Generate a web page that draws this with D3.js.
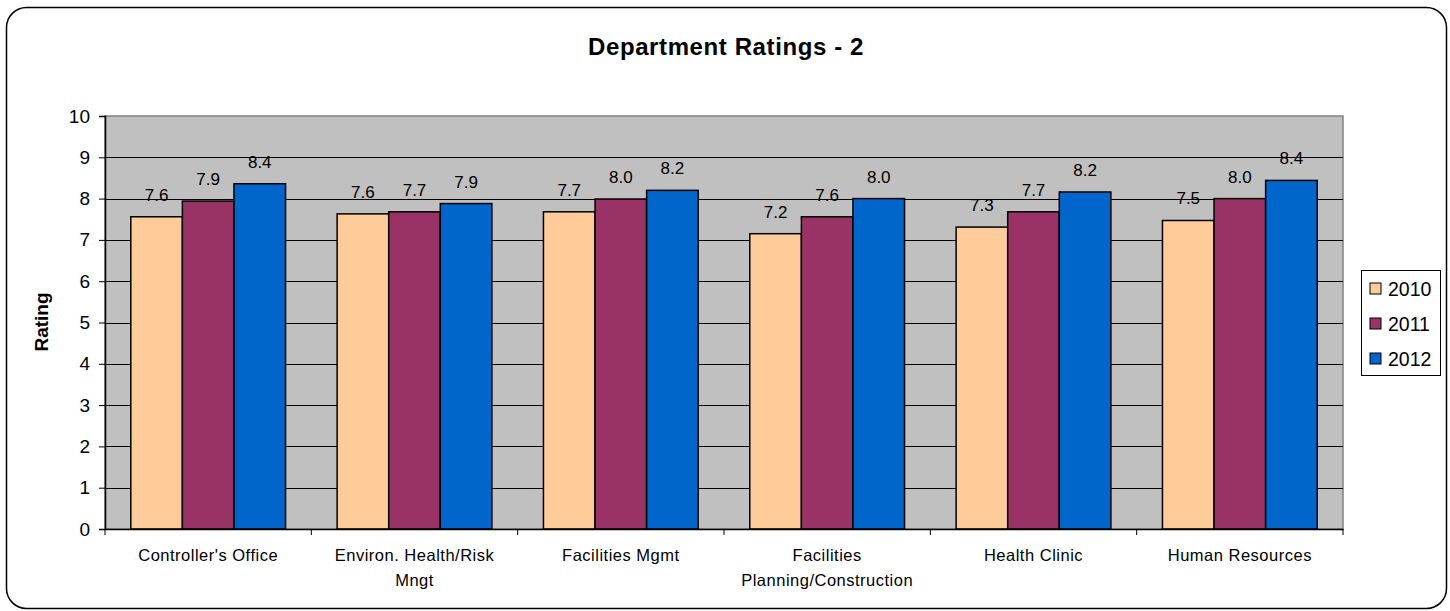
<!DOCTYPE html>
<html>
<head>
<meta charset="utf-8">
<script src="https://cdn.jsdelivr.net/npm/d3@7"></script>
<style>
  body { margin: 0; background: #fff; }
  text { font-family: "Liberation Sans", Arial, sans-serif; fill: #000; }
</style>
</head>
<body>
<div id="chart"></div>
<script>
const departments = ["Controller's Office", "Environ. Health/Risk Mngt", "Facilities Mgmt",
  "Facilities Planning/Construction", "Health Clinic", "Human Resources"];
// wrapped the way the picture shows them
const deptLines = [["Controller's Office"], ["Environ. Health/Risk", "Mngt"], ["Facilities Mgmt"],
  ["Facilities", "Planning/Construction"], ["Health Clinic"], ["Human Resources"]];
const years = ["2010", "2011", "2012"];
const ratings2010 = [7.56, 7.63, 7.68, 7.15, 7.31, 7.47];
const ratings2011 = [7.94, 7.68, 7.99, 7.56, 7.68, 8.0];
const ratings2012 = [8.36, 7.88, 8.2, 8.0, 8.16, 8.44];
const yTicks = [0, 1, 2, 3, 4, 5, 6, 7, 8, 9, 10];
const colors = ["#FFCC99", "#993366", "#0066CC"];

const W = 1450, H = 611;
const margin = { top: 116, right: 107, bottom: 82, left: 105 };
const width = W - margin.left - margin.right;
const height = H - margin.top - margin.bottom;

const svg = d3.select("#chart").append("svg")
  .attr("width", W).attr("height", H);

// outer frame
svg.append("rect")
  .attr("x", 6.5).attr("y", 7.5).attr("width", 1440).attr("height", 601)
  .attr("rx", 20).attr("ry", 20)
  .attr("fill", "#fff").attr("stroke", "#000").attr("stroke-width", 1.5);

svg.append("text")
  .attr("x", 726).attr("y", 55)
  .attr("text-anchor", "middle")
  .style("font-size", "24px").style("font-weight", "bold")
  .style("letter-spacing", "0.6px")
  .text("Department Ratings - 2");

const g = svg.append("g").attr("transform", `translate(${margin.left},${margin.top})`);

const x0 = d3.scaleBand().domain(departments).range([0, width]).padding(0);
const x1 = d3.scaleBand().domain(years)
  .range([x0.bandwidth() * 0.125, x0.bandwidth() * 0.875]).padding(0);
const y = d3.scaleLinear().domain([0, 10]).range([height, 0]);

// plot background
g.append("rect")
  .attr("width", width).attr("height", height)
  .attr("fill", "#C0C0C0").attr("stroke", "#808080").attr("stroke-width", 1.5);

// gridlines
g.selectAll(".grid")
  .data(yTicks.filter(d => d > 0 && d < 10))
  .enter().append("line")
  .attr("x1", 0).attr("x2", width)
  .attr("y1", d => Math.round(y(d)) + 0.5).attr("y2", d => Math.round(y(d)) + 0.5)
  .attr("stroke", "#000").attr("stroke-width", 1);

const series = years.map((yr, i) => ({
  year: yr,
  color: colors[i],
  values: [ratings2010, ratings2011, ratings2012][i]
}));

const groups = g.selectAll(".series")
  .data(series)
  .enter().append("g");

groups.selectAll("rect")
  .data(s => s.values.map((v, j) => ({ dept: departments[j], year: s.year, value: v, color: s.color })))
  .enter().append("rect")
  .attr("x", d => x0(d.dept) + x1(d.year))
  .attr("y", d => y(d.value))
  .attr("width", x1.bandwidth())
  .attr("height", d => height - y(d.value))
  .attr("fill", d => d.color)
  .attr("stroke", "#000").attr("stroke-width", 1.5);

groups.selectAll("text")
  .data(s => s.values.map((v, j) => ({ dept: departments[j], year: s.year, value: v })))
  .enter().append("text")
  .attr("x", d => x0(d.dept) + x1(d.year) + x1.bandwidth() / 2)
  .attr("y", d => y(d.value) - 16)
  .attr("text-anchor", "middle")
  .style("font-size", "17px")
  .text(d => d3.format(".1f")(d.value));

// y axis
const yAxis = g.append("g")
  .call(d3.axisLeft(y).tickValues(yTicks).tickSize(6).tickPadding(9).tickFormat(d3.format("d")));
yAxis.select(".domain").attr("stroke", "#000").attr("stroke-width", 1.5);
yAxis.selectAll("text").style("font-size", "19px").style("font-family", "Liberation Sans, Arial, sans-serif");

// x axis
const xAxis = g.append("g").attr("transform", `translate(0,${height})`)
  .call(d3.axisBottom(x0).tickValues([]).tickSizeOuter(0));
xAxis.select(".domain").attr("stroke", "#000").attr("stroke-width", 1.5);
xAxis.selectAll(".sep")
  .data(d3.range(departments.length + 1))
  .enter().append("line")
  .attr("x1", i => i * x0.bandwidth()).attr("x2", i => i * x0.bandwidth())
  .attr("y1", 0).attr("y2", 6)
  .attr("stroke", "#000");

const catLabels = xAxis.selectAll(".cat")
  .data(departments)
  .enter().append("text")
  .attr("text-anchor", "middle")
  .attr("x", d => x0(d) + x0.bandwidth() / 2)
  .attr("y", 32)
  .style("font-size", "16.5px")
  .style("letter-spacing", "0.5px");
catLabels.each(function (d, i) {
  deptLines[i].forEach((line, k) => {
    d3.select(this).append("tspan")
      .attr("x", x0(d) + x0.bandwidth() / 2)
      .attr("dy", k === 0 ? 0 : 25)
      .text(line);
  });
});

// y axis title
svg.append("text")
  .attr("transform", "translate(48,322) rotate(-90)")
  .attr("text-anchor", "middle")
  .style("font-size", "19px").style("font-weight", "bold")
  .text("Rating");

// legend
const legend = svg.append("g").attr("transform", "translate(1361,270)");
legend.append("rect")
  .attr("x", 0.5).attr("y", 0.5).attr("width", 79).attr("height", 105)
  .attr("fill", "#fff").attr("stroke", "#000");
const items = legend.selectAll(".item")
  .data(series)
  .enter().append("g")
  .attr("transform", (d, i) => `translate(9,${19 + i * 35})`);
items.append("rect")
  .attr("x", 0).attr("y", -6).attr("width", 11).attr("height", 11)
  .attr("fill", d => d.color).attr("stroke", "#000");
items.append("text")
  .attr("x", 18).attr("y", 7)
  .style("font-size", "19.5px")
  .text(d => d.year);
</script>
</body>
</html>
